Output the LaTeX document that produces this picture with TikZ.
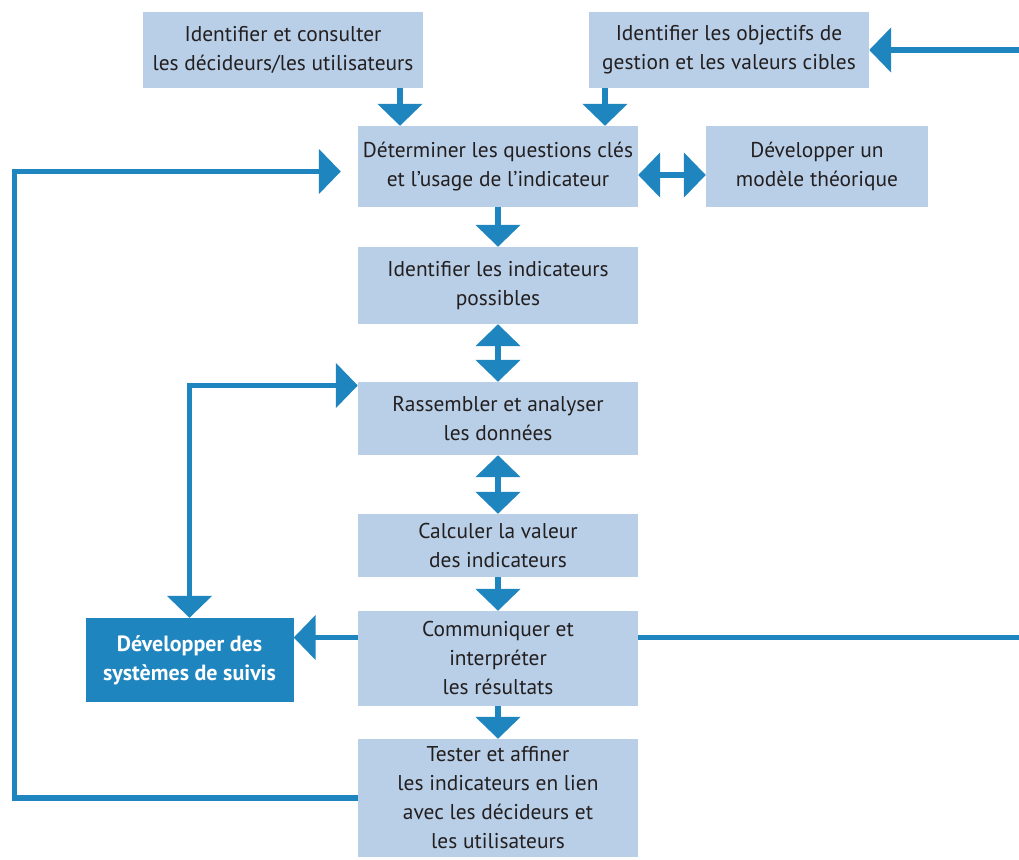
\documentclass[tikz,border=0pt]{standalone}
\usepackage{fontspec}
\setmainfont{PT Sans}
\usetikzlibrary{arrows.meta}
\definecolor{bleuclair}{HTML}{B8CFE7}
\definecolor{bleufonce}{HTML}{1F85BF}
\definecolor{texte}{HTML}{231F20}
\tikzset{
  etape/.style={fill=bleuclair, text=texte, minimum width=280, align=center, inner sep=0pt, font=\fontsize{21.4}{29}\selectfont},
  etapefonce/.style={fill=bleufonce, text=white, minimum width=208, align=center, inner sep=0pt, font=\fontsize{22}{29}\selectfont\bfseries},
  pointe/.tip={Triangle[width=44pt,length=22pt]},
  fleche/.style={draw=bleufonce, line width=5.5pt, -pointe},
  doublefleche/.style={draw=bleufonce, line width=5.5pt, pointe-pointe},
  ligne/.style={draw=bleufonce, line width=5.5pt}
}
\begin{document}
\begin{tikzpicture}[x=1pt,y=-1pt]
    \useasboundingbox (0,0) rectangle (1019,859);
    %Coordinates
    \coordinate (colA) at (400,0);
    \coordinate (colB) at (605,0);
    \coordinate (gauche) at (14.5,0);
    \coordinate (droite) at (1019,0);

    %Shape: Boxes
    \node[etape, minimum height=76] (consulter) at (283,50) {Identifier et consulter\\les décideurs/les utilisateurs};
    \node[etape, minimum height=76] (objectifs) at (729,50) {Identifier les objectifs de\\gestion et les valeurs cibles};
    \node[etape, minimum height=81] (questions) at (498,166.5) {Déterminer les questions clés\\et l’usage de l’indicateur};
    \node[etape, minimum height=81, minimum width=222] (modele) at (817,166.5) {Développer un\\modèle théorique};
    \node[etape, minimum height=77] (possibles) at (498,285.5) {Identifier les indicateurs\\possibles};
    \node[etape, minimum height=73] (donnees) at (498,418.5) {Rassembler et analyser\\les données};
    \node[etape, minimum height=63] (calculer) at (498,545.5) {Calculer la valeur\\des indicateurs};
    \node[etape, minimum height=95] (communiquer) at (498,658.5) {Communiquer et\\interpréter\\les résultats};
    \node[etape, minimum height=118] (tester) at (498,798) {Tester et affiner\\les indicateurs en lien\\avec les décideurs et\\les utilisateurs};
    \node[etapefonce, minimum height=84] (suivis) at (189.5,660) {Développer des\\systèmes de suivis};

    %Straight Lines: main column
    \draw[fleche] (consulter.south -| colA) -- (questions.north -| colA);
    \draw[fleche] (objectifs.south -| colB) -- (questions.north -| colB);
    \draw[doublefleche] ([yshift=-8.5]questions.east) -- ([yshift=-8.5]questions.east -| modele.west);
    \draw[fleche] (questions) ++(0,40.5) -- (possibles.north);
    \draw[doublefleche] (possibles.south) -- (donnees.north);
    \draw[doublefleche] (donnees.south) -- (calculer.north);
    \draw[fleche] (calculer.south) -- (communiquer.north);
    \draw[fleche] (communiquer.south) -- (tester.north);

    %Straight Lines: loops
    \draw[fleche] (tester.west) -- (tester.west -| gauche) -- ([yshift=-5]questions.west -| gauche) -- ([xshift=-17,yshift=-5]questions.west);
    \draw[doublefleche] (suivis.north) |- ([yshift=33]donnees.west);
    \draw[fleche] ([yshift=21]communiquer.west) -- ([yshift=21]communiquer.west -| suivis.east);
    \draw[ligne] ([yshift=21]communiquer.east) -- ([yshift=21]communiquer.east -| droite);
    \draw[fleche] (droite |- objectifs.east) -- (objectifs.east);
\end{tikzpicture}
\end{document}
